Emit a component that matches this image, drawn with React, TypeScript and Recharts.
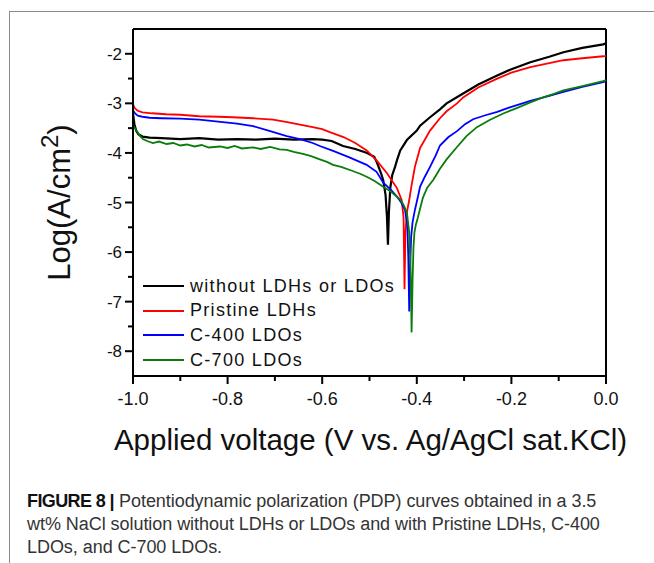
import { LineChart, Line, XAxis, YAxis, ReferenceLine, Label } from "recharts";

// potential (V vs Ag/AgCl) and log current density
const blackV = [-1.0, -0.997, -0.993, -0.988, -0.98, -0.965, -0.94, -0.9, -0.86, -0.82, -0.78, -0.74, -0.7, -0.66, -0.62, -0.6, -0.58, -0.556, -0.53, -0.505, -0.49, -0.484, -0.476, -0.471, -0.466, -0.463, -0.461, -0.459, -0.456, -0.452, -0.446, -0.442, -0.435, -0.421, -0.4, -0.393, -0.372, -0.351, -0.337, -0.302, -0.27, -0.23, -0.2, -0.16, -0.12, -0.09, -0.05, -0.006, 0];
const blackLog = [-3.2, -3.42, -3.56, -3.63, -3.67, -3.69, -3.7, -3.72, -3.7, -3.73, -3.72, -3.73, -3.71, -3.73, -3.72, -3.73, -3.76, -3.86, -3.92, -4.0, -4.08, -4.2, -4.4, -4.55, -4.85, -5.3, -5.85, -5.2, -4.7, -4.45, -4.28, -4.15, -3.95, -3.74, -3.55, -3.45, -3.28, -3.12, -3.0, -2.8, -2.62, -2.44, -2.31, -2.17, -2.06, -1.97, -1.88, -1.81, -1.79];

const redV = [-1.0, -0.996, -0.99, -0.98, -0.96, -0.93, -0.9, -0.86, -0.82, -0.789, -0.746, -0.704, -0.674, -0.647, -0.62, -0.6, -0.584, -0.555, -0.53, -0.506, -0.485, -0.463, -0.442, -0.432, -0.428, -0.426, -0.424, -0.421, -0.416, -0.411, -0.404, -0.393, -0.387, -0.372, -0.351, -0.337, -0.315, -0.302, -0.27, -0.23, -0.2, -0.16, -0.12, -0.09, -0.05, -0.006, 0];
const redLog = [-3.02, -3.1, -3.15, -3.18, -3.2, -3.22, -3.23, -3.26, -3.27, -3.28, -3.3, -3.33, -3.38, -3.43, -3.48, -3.52, -3.58, -3.68, -3.8, -3.95, -4.15, -4.41, -4.71, -4.95, -5.3, -6.75, -5.6, -5.2, -4.95, -4.65, -4.28, -3.9, -3.8, -3.55, -3.3, -3.16, -3.0, -2.88, -2.68, -2.5, -2.38, -2.27, -2.19, -2.13, -2.09, -2.05, -2.04];

const blueV = [-1.0, -0.996, -0.99, -0.98, -0.965, -0.94, -0.9, -0.86, -0.82, -0.78, -0.746, -0.71, -0.675, -0.647, -0.62, -0.605, -0.577, -0.545, -0.506, -0.485, -0.471, -0.455, -0.442, -0.433, -0.425, -0.42, -0.418, -0.416, -0.414, -0.412, -0.409, -0.404, -0.398, -0.393, -0.383, -0.372, -0.36, -0.351, -0.333, -0.315, -0.298, -0.281, -0.255, -0.23, -0.2, -0.16, -0.12, -0.09, -0.05, -0.006, 0];
const blueLog = [-3.14, -3.2, -3.25, -3.27, -3.29, -3.3, -3.31, -3.33, -3.37, -3.41, -3.46, -3.56, -3.66, -3.72, -3.8, -3.86, -3.96, -4.08, -4.24, -4.38, -4.6, -4.74, -4.88, -5.0, -5.15, -5.45, -6.1, -7.2, -6.3, -5.7, -5.4, -5.15, -4.9, -4.68, -4.48, -4.28, -4.05, -3.85, -3.68, -3.56, -3.42, -3.32, -3.24, -3.17, -3.07, -2.95, -2.85, -2.77, -2.67, -2.57, -2.55];

const greenV = [-1.0, -0.996, -0.992, -0.985, -0.979, -0.97, -0.958, -0.945, -0.929, -0.915, -0.9, -0.886, -0.87, -0.855, -0.84, -0.816, -0.8, -0.785, -0.77, -0.746, -0.73, -0.71, -0.69, -0.675, -0.66, -0.641, -0.625, -0.605, -0.59, -0.577, -0.56, -0.54, -0.52, -0.506, -0.49, -0.471, -0.455, -0.435, -0.428, -0.421, -0.416, -0.413, -0.411, -0.409, -0.407, -0.405, -0.402, -0.399, -0.393, -0.387, -0.378, -0.365, -0.351, -0.337, -0.315, -0.295, -0.273, -0.245, -0.216, -0.19, -0.16, -0.133, -0.11, -0.09, -0.05, -0.006, 0];
const greenLog = [-3.44, -3.5, -3.56, -3.66, -3.72, -3.76, -3.8, -3.77, -3.82, -3.8, -3.85, -3.83, -3.87, -3.84, -3.89, -3.87, -3.9, -3.86, -3.91, -3.89, -3.92, -3.88, -3.93, -3.94, -3.98, -4.02, -4.06, -4.13, -4.18, -4.24, -4.28, -4.35, -4.42, -4.48, -4.56, -4.68, -4.78, -4.94, -5.05, -5.2, -5.6, -6.4, -7.62, -6.6, -5.9, -5.6, -5.45, -5.35, -5.12, -4.9, -4.7, -4.54, -4.32, -4.13, -3.88, -3.66, -3.48, -3.33, -3.2, -3.1, -2.98, -2.88, -2.81, -2.74, -2.65, -2.55, -2.53];

const xTicks = [-1.0, -0.9, -0.8, -0.7, -0.6, -0.5, -0.4, -0.3, -0.2, -0.1, 0.0];
const xMajor = [-1.0, -0.8, -0.6, -0.4, -0.2, 0.0];
const yTicks = [-8, -7.5, -7, -6.5, -6, -5.5, -5, -4.5, -4, -3.5, -3, -2.5, -2];
const yMajor = [-8, -7, -6, -5, -4, -3, -2];

const zip = (v: number[], l: number[]) => v.map((x, i) => ({ v: x, log: l[i] }));

const series = [
  { name: "without LDHs or LDOs", color: "#000000", width: 2.2, data: zip(blackV, blackLog) },
  { name: "Pristine LDHs", color: "#ff0000", width: 1.8, data: zip(redV, redLog) },
  { name: "C-400 LDOs", color: "#0000ff", width: 1.8, data: zip(blueV, blueLog) },
  { name: "C-700 LDOs", color: "#0a7d0a", width: 1.8, data: zip(greenV, greenLog) },
];

const FONT = "'Liberation Sans', Arial, sans-serif";
const isIn = (arr: number[], v: number) => arr.some((m) => Math.abs(m - v) < 1e-6);

const XTick = ({ x, y, payload }: any) => {
  const major = isIn(xMajor, payload.value);
  return (
    <g>
      <line x1={x} x2={x} y1={y} y2={y + (major ? 8 : 5)} stroke="#000" strokeWidth={2} />
      {major && (
        <text x={x} y={y + 29} textAnchor="middle" fontSize={18} fontFamily={FONT} fill="#111">
          {payload.value.toFixed(1)}
        </text>
      )}
    </g>
  );
};

const YTick = ({ x, y, payload }: any) => {
  const major = isIn(yMajor, payload.value);
  return (
    <g>
      <line x1={x} x2={x - (major ? 8 : 5)} y1={y} y2={y} stroke="#000" strokeWidth={2} />
      {major && (
        <text x={x - 11} y={y + 6} textAnchor="end" fontSize={17} fontFamily={FONT} fill="#111">
          {payload.value}
        </text>
      )}
    </g>
  );
};

export default function App() {
  return (
    <div style={{ position: "absolute", left: 0, top: 0, width: 654, height: 563, background: "#fff", fontFamily: FONT }}>
      <div style={{ position: "absolute", left: 9, top: 11, width: 645, height: 552, borderTop: "1px solid #8a8a8a", borderLeft: "1px solid #8a8a8a" }} />
      <div style={{ position: "absolute", left: 0, top: 0 }}>
        <LineChart width={654} height={470} margin={{ top: 29, right: 48, left: 73, bottom: 64 }}>
          <XAxis
            type="number"
            dataKey="v"
            domain={[-1, 0]}
            ticks={xTicks}
            interval={0}
            tickSize={0}
            tickMargin={0}
            tickLine={false}
            tick={<XTick />}
            axisLine={{ stroke: "#000", strokeWidth: 2 }}
            height={30}
          >
            <Label
              content={({ viewBox }: any) => (
                <text x={viewBox.x + viewBox.width / 2 + 1} y={viewBox.y + 74} textAnchor="middle" fontSize={29.5} fontFamily={FONT} fill="#111">
                  Applied voltage (V vs. Ag/AgCl sat.KCl)
                </text>
              )}
            />
          </XAxis>
          <YAxis
            type="number"
            domain={[-8.5, -1.5]}
            ticks={yTicks}
            interval={0}
            tickSize={0}
            tickMargin={0}
            tickLine={false}
            tick={<YTick />}
            axisLine={{ stroke: "#000", strokeWidth: 2 }}
            width={60}
          >
            <Label
              content={({ viewBox }: any) => {
                const cx = viewBox.x - 3;
                const cy = viewBox.y + viewBox.height / 2;
                return (
                  <text x={cx} y={cy} transform={`rotate(-90 ${cx} ${cy})`} textAnchor="middle" fontSize={31} fontFamily={FONT} fill="#111">
                    Log(A/cm<tspan dy={-12} fontSize={24}>2</tspan>
                    <tspan dy={12}>)</tspan>
                  </text>
                );
              }}
            />
          </YAxis>
          <ReferenceLine y={-1.5} stroke="#000" strokeWidth={2} />
          <ReferenceLine x={0} stroke="#000" strokeWidth={2} />
          {series.map((s) => (
            <Line
              key={s.name}
              data={s.data}
              dataKey="log"
              type="linear"
              stroke={s.color}
              strokeWidth={s.width}
              dot={false}
              isAnimationActive={false}
            />
          ))}
        </LineChart>
      </div>
      <div style={{ position: "absolute", left: 143, top: 274 }}>
        {series.map((s) => (
          <div key={s.name} style={{ height: 24.6, display: "flex", alignItems: "center" }}>
            <span style={{ display: "inline-block", width: 41, height: 2, background: s.color, marginRight: 6 }} />
            <span style={{ fontSize: 18, letterSpacing: 1.3, color: "#111", whiteSpace: "nowrap" }}>{s.name}</span>
          </div>
        ))}
      </div>
      <div style={{ position: "absolute", left: 27, top: 490, fontSize: 18, lineHeight: "23px", letterSpacing: -0.05, color: "#333", whiteSpace: "nowrap" }}>
        <div>
          <b style={{ color: "#111", letterSpacing: -0.6 }}>FIGURE 8 |</b> Potentiodynamic polarization (PDP) curves obtained in a 3.5
        </div>
        <div>wt% NaCl solution without LDHs or LDOs and with Pristine LDHs, C-400</div>
        <div>LDOs, and C-700 LDOs.</div>
      </div>
    </div>
  );
}
